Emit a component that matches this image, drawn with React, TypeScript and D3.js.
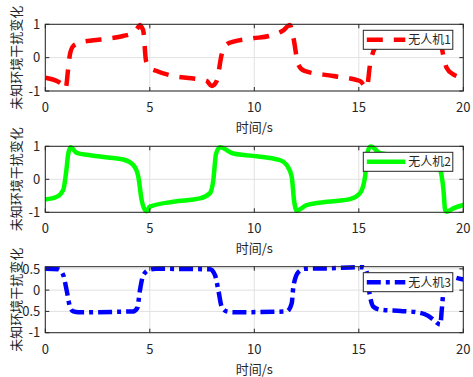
import React from "react";
import * as d3 from "d3";

// Drone 1 disturbance (red, dashed)
const t1 = [0, 0.55, 0.8, 0.97, 1.1, 1.18, 1.34, 1.66, 2.3, 3.0, 3.73, 4.2, 4.37, 4.53, 4.62, 4.69, 4.82, 5.0, 5.33, 6.12, 7.0, 7.72, 7.96, 8.2, 8.44, 8.68, 9.0, 9.95, 10.7, 11.39, 11.7, 11.87, 12.1, 12.4, 13.78, 15.06, 15.38, 15.54, 15.78, 16.0, 16.4, 17.2, 18.0, 18.6, 18.85, 18.97, 19.2, 19.52, 20];
const v1 = [-0.6, -0.7, -0.8, -0.93, -0.3, 0.1, 0.35, 0.45, 0.52, 0.57, 0.65, 0.75, 0.85, 0.98, 0.9, 0.8, -0.1, -0.3, -0.4, -0.55, -0.62, -0.7, -0.85, -0.7, 0.1, 0.4, 0.48, 0.58, 0.65, 0.82, 0.98, 0.6, -0.2, -0.4, -0.55, -0.7, -0.9, -0.2, 0.3, 0.42, 0.47, 0.53, 0.6, 0.7, 0.75, 0.3, -0.3, -0.5, -0.6];

// Drone 2 disturbance (green, solid)
const t2 = [0, 0.55, 0.86, 0.99, 1.1, 1.21, 1.5, 2.14, 3.0, 3.73, 4.21, 4.45, 4.61, 4.77, 4.85, 5.0, 6.12, 7.4, 7.88, 8.04, 8.17, 8.36, 9.0, 9.95, 11.23, 11.55, 11.79, 11.9, 12.03, 12.5, 13.5, 14.58, 15.06, 15.3, 15.4, 15.57, 16.0, 17.0, 18.0, 18.5, 18.89, 19.05, 19.13, 19.2, 19.52, 20];
const v2 = [-0.61, -0.53, -0.32, 0.18, 0.78, 0.97, 0.8, 0.73, 0.66, 0.6, 0.43, 0.08, -0.63, -0.93, -0.97, -0.83, -0.68, -0.58, -0.42, -0.02, 0.78, 0.97, 0.78, 0.71, 0.58, 0.43, 0.08, -0.63, -0.95, -0.78, -0.68, -0.6, -0.42, 0.08, 0.78, 1.0, 0.8, 0.72, 0.62, 0.5, 0.28, -0.32, -0.93, -0.98, -0.88, -0.78];

// Drone 3 disturbance (blue, dash-dot)
const t3 = [0, 0.62, 0.86, 1.02, 1.18, 1.34, 1.6, 4.2, 4.4, 4.53, 4.69, 5.0, 5.3, 7.88, 8.12, 8.28, 8.44, 8.68, 9.0, 11.55, 11.79, 11.87, 12.1, 12.4, 13.5, 15.23, 15.38, 15.46, 15.54, 15.7, 16.03, 17.0, 17.78, 18.3, 18.58, 18.9, 18.97, 19.05, 19.12, 19.3, 19.6, 20];
const v3 = [0.5, 0.49, 0.35, 0, -0.39, -0.5, -0.52, -0.5, -0.42, 0, 0.35, 0.48, 0.5, 0.49, 0.35, 0, -0.39, -0.5, -0.52, -0.5, -0.31, 0.08, 0.42, 0.5, 0.51, 0.54, 0.42, 0.1, -0.15, -0.39, -0.46, -0.49, -0.52, -0.6, -0.7, -0.81, -0.46, 0, 0.3, 0.36, 0.3, 0.25];

const xTicks = [0, 5, 10, 15, 20];
const yTicksA = [-1, 0, 1];
const yTicksC = [-1, -0.5, 0, 0.5];
const seriesNames = ["无人机1", "无人机2", "无人机3"];
const xLabel = "时间/s";
const yLabel = "未知环境干扰变化";

const W = 473;
const H = 377;
const left = 45.3;
const right = 463.3;
const FONT = "'Noto Sans CJK SC', 'Noto Sans', sans-serif";
const AXIS = "#262626";
const GRID = "#e1e1e1";

type Panel = {
  t: number[];
  v: number[];
  top: number;
  bottom: number;
  domain: [number, number];
  yTicks: number[];
  color: string;
  dash: string | undefined;
  name: string;
};

const panels: Panel[] = [
  { t: t1, v: v1, top: 24.3, bottom: 91, domain: [-1, 1], yTicks: yTicksA, color: "#ff0000", dash: "16 11", name: seriesNames[0] },
  { t: t2, v: v2, top: 146.3, bottom: 212.3, domain: [-1, 1], yTicks: yTicksA, color: "#00ff00", dash: undefined, name: seriesNames[1] },
  { t: t3, v: v3, top: 266.7, bottom: 332.7, domain: [-1, 0.55], yTicks: yTicksC, color: "#0000ff", dash: "14 5 4 5", name: seriesNames[2] },
];

const x = d3.scaleLinear().domain([0, 20]).range([left, right]);

function PanelView({ p, idx }: { p: Panel; idx: number }) {
  const y = d3.scaleLinear().domain(p.domain).range([p.bottom, p.top]);
  const pts: [number, number][] = p.t.map((t, i) => [t, p.v[i]]);
  const line = d3
    .line<[number, number]>()
    .x((d) => x(d[0]))
    .y((d) => y(d[1]))
    .curve(d3.curveMonotoneX);
  const clipId = `clip-${idx}`;
  const lw = 4.5;
  const legX = 363.3;
  const legY = p.top + 6;
  const legW = 89.5;
  const legH = 19;
  const tickLen = 4;
  return (
    <g>
      <defs>
        <clipPath id={clipId}>
          <rect x={left} y={p.top - 2} width={right - left} height={p.bottom - p.top + 4} />
        </clipPath>
      </defs>
      <rect x={left} y={p.top} width={right - left} height={p.bottom - p.top} fill="#fff" />
      {/* grid */}
      {xTicks.map((t) => (
        <line key={`gx${t}`} x1={x(t)} x2={x(t)} y1={p.top} y2={p.bottom} stroke={GRID} strokeWidth={1} />
      ))}
      {p.yTicks.map((t) => (
        <line key={`gy${t}`} x1={left} x2={right} y1={y(t)} y2={y(t)} stroke={GRID} strokeWidth={1} />
      ))}
      {/* data */}
      <path
        d={line(pts) || ""}
        fill="none"
        stroke={p.color}
        strokeWidth={lw}
        strokeDasharray={p.dash}
        strokeLinejoin="round"
        clipPath={`url(#${clipId})`}
      />
      {/* box and ticks */}
      <rect x={left} y={p.top} width={right - left} height={p.bottom - p.top} fill="none" stroke={AXIS} strokeWidth={1} />
      {xTicks.map((t) => (
        <g key={`tx${t}`}>
          <line x1={x(t)} x2={x(t)} y1={p.bottom} y2={p.bottom - tickLen} stroke={AXIS} />
          <line x1={x(t)} x2={x(t)} y1={p.top} y2={p.top + tickLen} stroke={AXIS} />
          <text x={x(t)} y={p.bottom + 21} textAnchor="middle" fontSize={13} fill={AXIS} fontFamily={FONT}>
            {t}
          </text>
        </g>
      ))}
      {p.yTicks.map((t) => (
        <g key={`ty${t}`}>
          <line x1={left} x2={left + tickLen} y1={y(t)} y2={y(t)} stroke={AXIS} />
          <line x1={right} x2={right - tickLen} y1={y(t)} y2={y(t)} stroke={AXIS} />
          <text x={left - 5} y={y(t)} dy="0.36em" textAnchor="end" fontSize={13} fill={AXIS} fontFamily={FONT}>
            {t}
          </text>
        </g>
      ))}
      <text x={(left + right) / 2} y={p.bottom + 41} textAnchor="middle" fontSize={13} fill={AXIS} fontFamily={FONT}>
        {xLabel}
      </text>
      <text
        transform={`translate(20.5, ${(p.top + p.bottom) / 2}) rotate(-90)`}
        textAnchor="middle"
        fontSize={13}
        fill={AXIS}
        fontFamily={FONT}
      >
        {yLabel}
      </text>
      {/* legend */}
      <rect x={legX} y={legY} width={legW} height={legH} fill="#fff" stroke={AXIS} strokeWidth={1} />
      <line
        x1={legX + 3.5}
        x2={legX + 42}
        y1={legY + legH / 2}
        y2={legY + legH / 2}
        stroke={p.color}
        strokeWidth={lw}
        strokeDasharray={p.dash}
      />
      <text x={legX + 45} y={legY + legH / 2} dy="0.36em" fontSize={12} fill={AXIS} fontFamily={FONT}>
        {p.name}
      </text>
    </g>
  );
}

export default function App() {
  return (
    <svg
      width={W}
      height={H}
      style={{ position: "absolute", left: 0, top: 0, background: "#fff" }}
    >
      <rect width={W} height={H} fill="#fff" />
      {panels.map((p, i) => (
        <PanelView key={i} p={p} idx={i} />
      ))}
    </svg>
  );
}
